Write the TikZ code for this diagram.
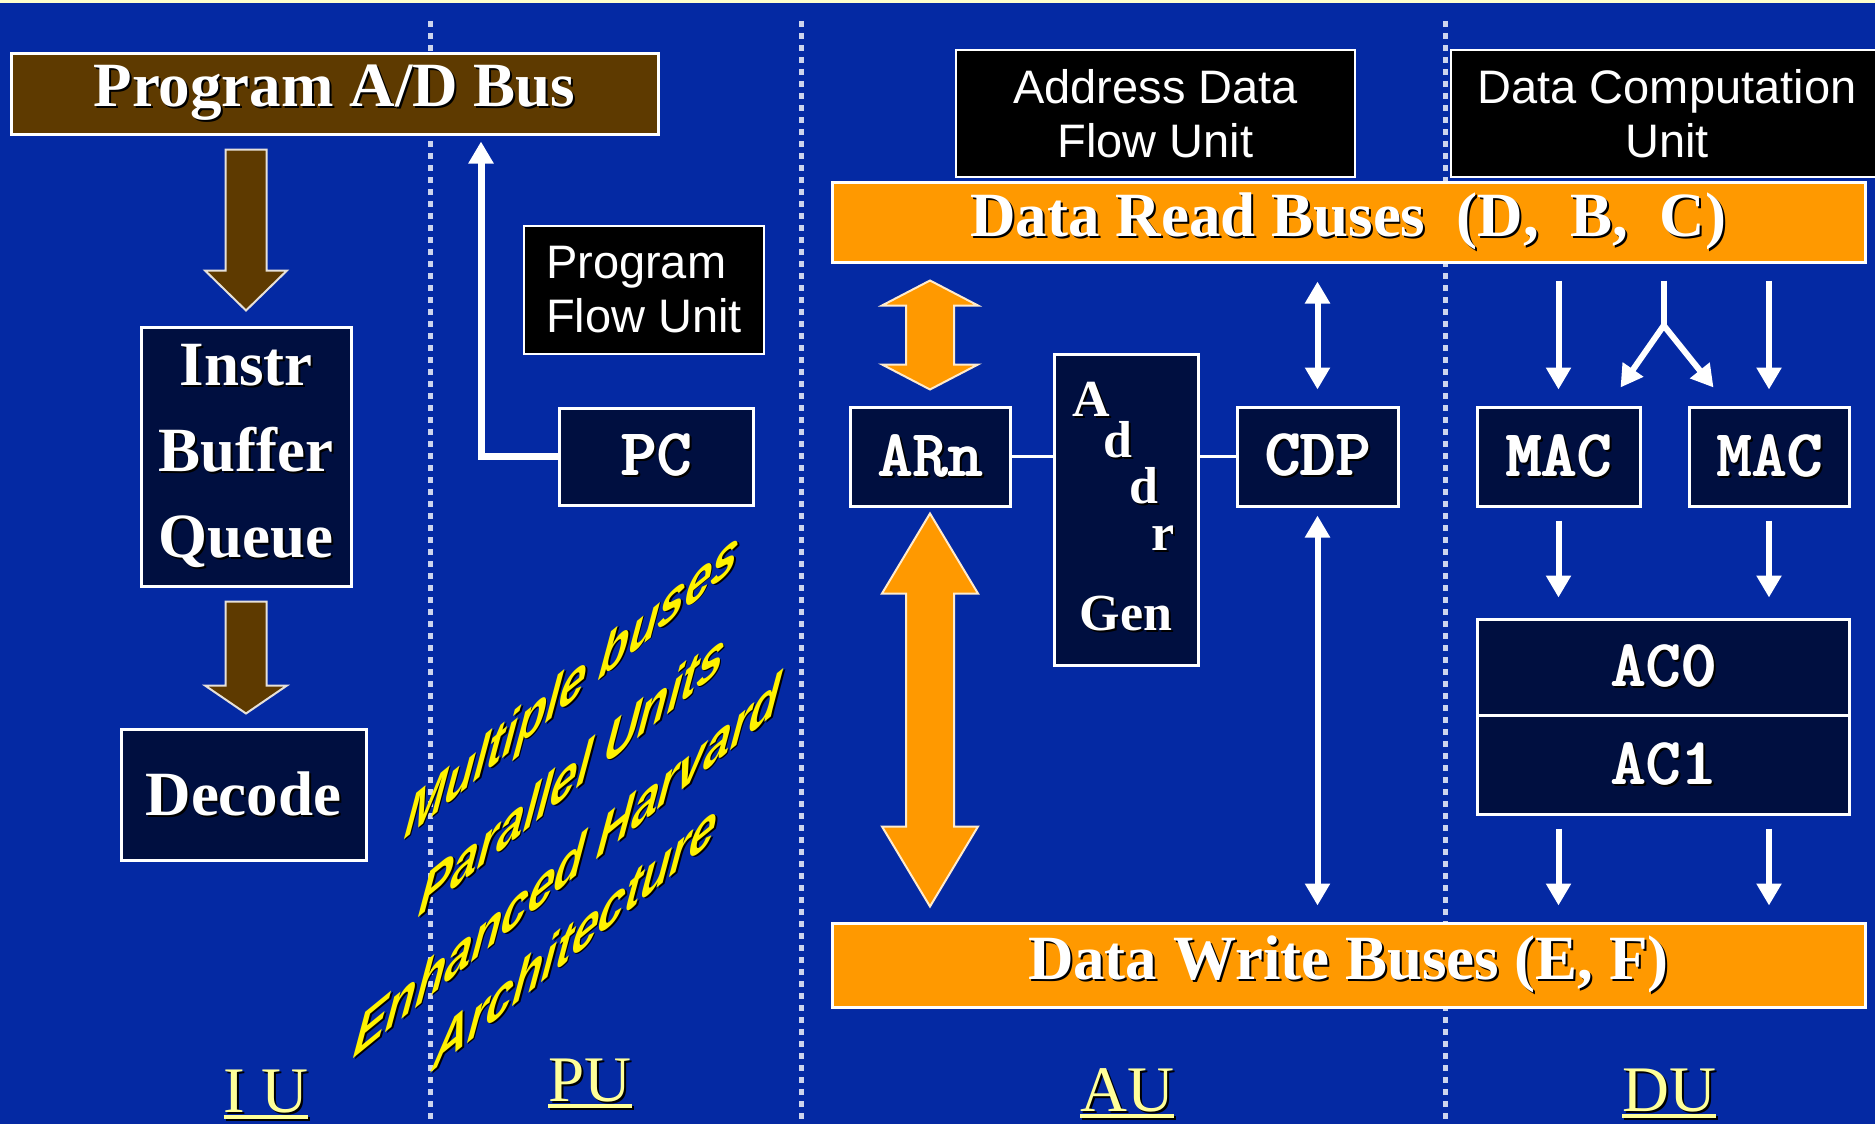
\documentclass[tikz,border=0pt]{standalone}
\usepackage{fontspec}
\setmainfont{Liberation Serif}
\setsansfont{Liberation Sans}
\usetikzlibrary{arrows.meta, calc}

\definecolor{slidebg}{RGB}{4,41,163}
\definecolor{navy}{RGB}{0,15,64}
\definecolor{busbrown}{RGB}{94,58,0}
\definecolor{busorange}{RGB}{255,153,0}
\definecolor{lblyellow}{RGB}{255,255,153}
\definecolor{topline}{RGB}{255,255,204}

% white text with a dark drop shadow
\newcommand{\shd}[1]{\leavevmode\rlap{\kern2pt\raisebox{-2pt}{\color{black}#1}}#1}
% register names: typewriter, doubled for a heavier stroke
\newcommand{\regshd}[1]{\leavevmode
	\rlap{\kern2pt\raisebox{-2pt}{\color{black}#1}}%
	\rlap{\kern3.4pt\raisebox{-2pt}{\color{black}#1}}%
	\rlap{\kern1.4pt#1}#1}
% heavier underline for the unit names
\newlength{\ulw}
\newcommand{\ulbl}[1]{\settowidth{\ulw}{#1}\leavevmode\rlap{\rule[-7pt]{\ulw}{4pt}}#1}

\tikzset{
	box/.style={draw=white, line width=3pt, inner sep=0pt, text=white},
	navybox/.style={box, fill=navy},
	blackbox/.style={box, line width=2pt, fill=black, font=\sffamily\fontsize{47}{54}\selectfont},
	busbar/.style={box, fill=busorange, font=\bfseries\fontsize{63}{63}\selectfont},
	serifbold/.style={font=\bfseries\fontsize{63}{86}\selectfont},
	regtxt/.style={font=\ttfamily\bfseries\fontsize{67}{67}\selectfont},
	addrtxt/.style={text=white, inner sep=0pt, anchor=base, font=\bfseries\fontsize{52}{52}\selectfont},
	unitlbl/.style={text=lblyellow, inner sep=0pt, anchor=base, font=\fontsize{65}{65}\selectfont},
	slogan/.style={text=yellow, inner sep=0pt, anchor=base, cm={1,0.82,0.18,1.25,(0,0)},
		font=\sffamily\bfseries\itshape\fontsize{48}{48}\selectfont},
	divider/.style={white!80!slidebg, line width=5pt, dash pattern=on 6pt off 6pt},
	wire/.style={white, line width=6pt, -{Triangle[width=24pt,length=22pt]}},
	wires/.style={wire, {Triangle[width=24pt,length=22pt]}-{Triangle[width=24pt,length=22pt]}},
	% fat vertical arrows, #1 = head length
	blockdown/.style={to path={let \p1=(\tikztostart), \p2=(\tikztotarget) in
		(\x1-20.5,\y1) -- (\x1+20.5,\y1) -- (\x1+20.5,\y2+#1) -- (\x1+41,\y2+#1)
		-- (\x1,\y2) -- (\x1-41,\y2+#1) -- (\x1-20.5,\y2+#1) -- cycle}},
	blockboth/.style={to path={let \p1=(\tikztostart), \p2=(\tikztotarget) in
		(\x1,\y1) -- (\x1+48,\y1-#1) -- (\x1+24,\y1-#1) -- (\x1+24,\y2+#1) -- (\x1+48,\y2+#1)
		-- (\x1,\y2) -- (\x1-48,\y2+#1) -- (\x1-24,\y2+#1) -- (\x1-24,\y1-#1) -- (\x1-48,\y1-#1) -- cycle}},
}

\begin{document}
\begin{tikzpicture}[x=1pt, y=-1pt]
	\useasboundingbox (0,0) rectangle (1875,1124);
	\fill[slidebg] (0,0) rectangle (1875,1124);
	\fill[topline] (0,0) rectangle (1875,3);

	% unit dividers
	\foreach \xd in {430,801,1445}
		\draw[divider] (\xd,21) -- (\xd,1124);

	% instruction unit
	\node[box, fill=busbrown, serifbold, minimum width=647pt, minimum height=80pt] (progbus) at (334.5,94) {\shd{Program A/D Bus}};
	\node[navybox, serifbold, align=center, minimum width=210pt, minimum height=259pt] (instr) at (246,456.5) {\shd{Instr}\\\shd{Buffer}\\\shd{Queue}};
	\node[navybox, serifbold, minimum width=245pt, minimum height=131pt] (decode) at (243.5,794.5) {\shd{Decode}};
	\path[draw=white!85!busbrown, line width=2pt, fill=busbrown] ($(instr.north |- progbus.south)+(0,14)$) to[blockdown=40] ($(instr.north)+(0,-15)$);
	\path[draw=white!85!busbrown, line width=2pt, fill=busbrown] ($(instr.south)+(0,14)$) to[blockdown=28] ($(instr.south |- decode.north)+(0,-14)$);

	% program unit
	\node[blackbox, align=left, minimum width=240pt, minimum height=128pt] (pfu) at (644,290) {Program\\Flow Unit};
	\node[navybox, regtxt, minimum width=194pt, minimum height=97pt] (pc) at (656,456.5) {\regshd{PC}};
	\draw[wire, line width=7pt] (pc.west) -| ($(progbus.south)+(146.5,6)$);

	\node[slogan] (s1) at (570,704) {\shd{Multiple buses}};
	\node[slogan] (s2) at (570,794) {\shd{Parallel Units}};
	\node[slogan] (s3) at (565,886) {\shd{Enhanced Harvard}};
	\node[slogan] (s4) at (573,957) {\shd{Architecture}};

	% buses
	\node[busbar, minimum width=1033pt, minimum height=80pt] (readbus) at (1348.5,222) {\shd{Data Read Buses\ \ (D,\ \ B,\ \ C)}};
	\node[busbar, minimum width=1033pt, minimum height=84pt] (writebus) at (1348.5,965) {\shd{Data Write Buses (E, F)}};

	% address unit
	\node[blackbox, align=center, minimum width=399pt, minimum height=127pt] (adfu) at (1155.5,113.5) {Address Data\\Flow Unit};
	\node[navybox, regtxt, minimum width=160pt, minimum height=99pt] (arn) at (930,456.5) {\regshd{ARn}};
	\node[navybox, minimum width=144pt, minimum height=311pt] (addr) at (1126,509.5) {};
	\node[addrtxt] (ga) at ($(addr.north west)+(39,64)$) {\shd{A}};
	\node[addrtxt] (gd1) at ($(addr.north west)+(65,105)$) {\shd{d}};
	\node[addrtxt] (gd2) at ($(addr.north west)+(91,151)$) {\shd{d}};
	\node[addrtxt] (gr) at ($(addr.north west)+(111,198)$) {\shd{r}};
	\node[addrtxt] (ggen) at ($(addr.south)+(0,-36)$) {\shd{Gen}};
	\node[navybox, regtxt, minimum width=161pt, minimum height=99pt] (cdp) at (1317.5,456.5) {\regshd{CDP}};
	\draw[white, line width=3pt] (arn.east) -- (addr.west |- arn.east);
	\draw[white, line width=3pt] (cdp.west) -- (addr.east |- cdp.west);

	\path[draw=white!80!busorange, line width=2pt, fill=busorange] ($(arn.north |- readbus.south)+(0,17)$) to[blockboth=25] ($(arn.north)+(0,-16)$);
	\path[draw=white!80!busorange, line width=2pt, fill=busorange] ($(arn.south)+(0,6)$) to[blockboth=80] ($(arn.south |- writebus.north)+(0,-15)$);
	\draw[wires] ($(cdp.north |- readbus.south)+(0,18)$) -- ($(cdp.north)+(0,-16)$);
	\draw[wires] ($(cdp.south)+(0,8)$) -- ($(cdp.south |- writebus.north)+(0,-16)$);

	% data unit
	\node[blackbox, align=center, minimum width=432pt, minimum height=127pt] (dcu) at (1667,113.5) {Data Computation\\Unit};
	\node[navybox, regtxt, minimum width=163pt, minimum height=99pt] (mac1) at (1558.5,456.5) {\regshd{MAC}};
	\node[navybox, regtxt, minimum width=160pt, minimum height=99pt] (mac2) at (1769,456.5) {\regshd{MAC}};
	\node[navybox, regtxt, minimum width=372pt, minimum height=96pt] (ac0) at (1663,667) {\regshd{AC0}};
	\node[navybox, regtxt, minimum width=372pt, minimum height=99pt] (ac1) at (1663,764.5) {\regshd{AC1}};

	\draw[wire] ($(mac1.north |- readbus.south)+(0,17)$) -- ($(mac1.north)+(0,-16)$);
	\draw[wire] ($(mac2.north |- readbus.south)+(0,17)$) -- ($(mac2.north)+(0,-16)$);
	\coordinate (fork) at ($(mac1.north)!0.5!(mac2.north)+(0,-80)$);
	\draw[white, line width=6pt] ($(fork |- readbus.south)+(0,17)$) -- (fork);
	\draw[wire] (fork) -- ($(mac1.north east)+(-21,-18)$);
	\draw[wire] (fork) -- ($(mac2.north west)+(26,-18)$);
	\foreach \m in {mac1,mac2} {
		\draw[wire] ($(\m.south)+(0,13)$) -- ($(\m.south |- ac0.north)+(0,-20)$);
		\draw[wire] ($(\m.south |- ac1.south)+(0,13)$) -- ($(\m.south |- writebus.north)+(0,-16)$);
	}

	% unit names
	\node[unitlbl] (lbliu) at (266,1112) {\shd{\ulbl{I U}}};
	\node[unitlbl] (lblpu) at (590,1101) {\shd{\ulbl{PU}}};
	\node[unitlbl] (lblau) at (1127,1111) {\shd{\ulbl{AU}}};
	\node[unitlbl] (lbldu) at (1669,1111) {\shd{\ulbl{DU}}};
\end{tikzpicture}
\end{document}
